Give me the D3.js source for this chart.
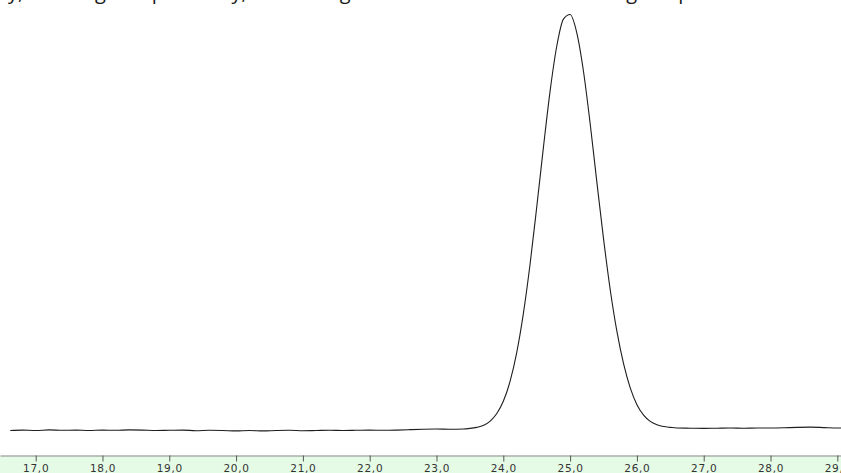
<!DOCTYPE html>
<html>
<head>
<meta charset="utf-8">
<script src="https://cdn.jsdelivr.net/npm/d3@7"></script>
<style>
  html, body { margin: 0; padding: 0; background: #fff; }
  svg { display: block; }
</style>
</head>
<body>
<svg id="chart" width="841" height="473"></svg>
<script>
// retention time (min) and detector signal (% of peak height)
const times = [
  16.62, 16.8, 17.0, 17.2, 17.4, 17.6, 17.8, 18.0, 18.2, 18.4, 18.6, 18.8,
  19.0, 19.2, 19.4, 19.6, 19.8, 20.0, 20.2, 20.4, 20.6, 20.8, 21.0, 21.2,
  21.4, 21.6, 21.8, 22.0, 22.2, 22.4, 22.6, 22.8, 23.0, 23.2, 23.4, 23.5,
  23.6, 23.7, 23.8, 23.9, 24.0, 24.1, 24.2, 24.3, 24.4, 24.5, 24.6, 24.7,
  24.8, 24.9, 25.0, 25.1, 25.2, 25.3, 25.4, 25.5, 25.6, 25.7, 25.8, 25.9,
  26.0, 26.1, 26.2, 26.3, 26.4, 26.5, 26.6, 26.8, 27.0, 27.2, 27.4, 27.6,
  27.8, 28.0, 28.2, 28.4, 28.6, 28.8, 29.0, 29.06
];
const signal = [
  0.0, 0.1, 0.0, 0.15, 0.05, 0.1, 0.0, 0.1, 0.05, 0.15, 0.1, 0.0,
  0.05, 0.1, -0.05, 0.05, 0.0, -0.1, 0.0, -0.1, 0.0, 0.05, -0.05, 0.0,
  0.05, 0.0, 0.05, 0.1, 0.05, 0.1, 0.2, 0.3, 0.35, 0.3, 0.35, 0.5,
  0.75, 1.2, 2.2, 4.0, 7.0, 11.7, 18.6, 28.0, 39.8, 53.5, 67.8, 81.3,
  92.1, 98.6, 99.7, 95.3, 86.1, 73.6, 59.6, 46.0, 33.8, 23.8, 16.0, 10.2,
  6.2, 3.7, 2.2, 1.4, 0.95, 0.75, 0.6, 0.55, 0.5, 0.55, 0.6, 0.55,
  0.6, 0.6, 0.65, 0.75, 0.8, 0.7, 0.6, 0.6
];
const tickValues = [17, 18, 19, 20, 21, 22, 23, 24, 25, 26, 27, 28, 29];
const caption = "y, showing one peak only, while a high resolution is obtained during the peak";

const width = 841, height = 473;
const axisY = 455.5;

const svg = d3.select("#chart");

const x = d3.scaleLinear().domain([16.466, 29.055]).range([0, width]);
const y = d3.scaleLinear().domain([0, 100]).range([430.5, 13.3]);

// cut-off line of text from the page above the figure
svg.append("text")
    .attr("x", 8)
    .attr("y", -1.5)
    .attr("font-family", "Open Sans")
    .attr("font-size", 20)
    .attr("fill", "#1a1a1a")
    .text(caption);

// pale green axis band
svg.append("rect")
    .attr("x", 0)
    .attr("y", axisY)
    .attr("width", width)
    .attr("height", height - axisY)
    .attr("fill", "#e6fbe6");

const points = times.map((t, i) => [t, signal[i]]);

svg.append("path")
    .datum(points)
    .attr("fill", "none")
    .attr("stroke", "#1e1e1e")
    .attr("stroke-width", 1.1)
    .attr("stroke-linejoin", "round")
    .attr("d", d3.line()
        .x(d => x(d[0]))
        .y(d => y(d[1]))
        .curve(d3.curveMonotoneX));

// decimal comma, as in the original software
const locale = d3.formatLocale({decimal: ",", thousands: ".", grouping: [3], currency: ["", ""]});

const xAxis = d3.axisBottom(x)
    .tickValues(tickValues)
    .tickFormat(locale.format(".1f"))
    .tickSizeInner(6)
    .tickSizeOuter(0)
    .tickPadding(3);

const gx = svg.append("g")
    .attr("transform", `translate(0,${axisY})`)
    .call(xAxis);

gx.select(".domain").attr("stroke", "#8a8a8a").attr("stroke-width", 1.2);
gx.selectAll(".tick line").attr("stroke", "#555");
gx.selectAll(".tick text")
    .attr("fill", "#333")
    .attr("font-family", "DejaVu Sans")
    .attr("font-size", 10.5)
    .attr("letter-spacing", 0.7);
</script>
</body>
</html>
